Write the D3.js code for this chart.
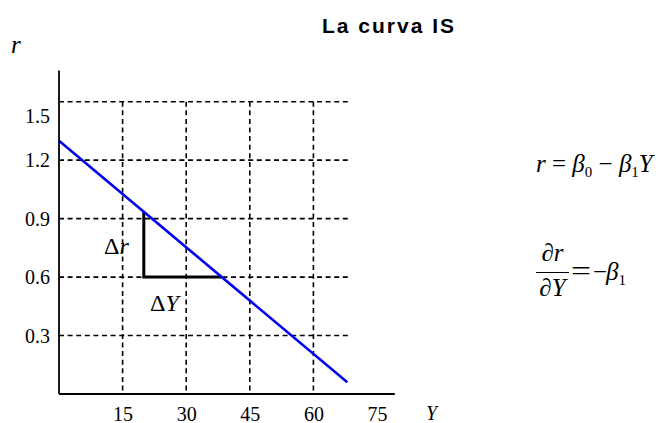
<!DOCTYPE html>
<html>
<head>
<meta charset="utf-8">
<script src="https://cdn.jsdelivr.net/npm/d3@7/dist/d3.min.js"></script>
<style>
  html, body { margin: 0; padding: 0; background: #fff; }
  svg { display: block; }
  .serif { font-family: "Liberation Serif", "Times New Roman", serif; }
</style>
</head>
<body>
<svg id="chart" width="658" height="423"></svg>
<script>
// IS curve: r = b0 - b1*Y
const yTicks = [15, 30, 45, 60, 75];          // output (Y) tick labels
const yGridX = [15, 30, 45, 60];              // vertical guide lines
const rTicks = [0.3, 0.6, 0.9, 1.2, 1.5];     // interest-rate tick labels
const isCurve = [[0, 1.3], [68, 0.06]];       // endpoints of the IS line (Y, r)
const deltaY = [20, 38.4];                    // horizontal leg of the slope triangle
const deltaR = [0.6, 0.935];                  // vertical leg of the slope triangle
const gridEndY = 68.2;                        // horizontal guides stop here
const axisMax = { Y: 79.2, r: 1.66 };

const svg = d3.select("#chart");
const x = d3.scaleLinear().domain([0, 75]).range([59, 377]);
const y = d3.scaleLinear().domain([0, 1.5]).range([394, 101.7]);

// dashed guides
const grid = svg.append("g")
  .attr("stroke", "#000").attr("stroke-width", 1.6)
  .attr("stroke-dasharray", "5,3.6").attr("fill", "none");
grid.selectAll("line.h").data(rTicks).join("line")
  .attr("class", "h")
  .attr("x1", x(0)).attr("x2", x(gridEndY))
  .attr("y1", d => y(d)).attr("y2", d => y(d));
grid.selectAll("line.v").data(yGridX).join("line")
  .attr("class", "v")
  .attr("x1", d => x(d)).attr("x2", d => x(d))
  .attr("y1", y(1.5)).attr("y2", y(0));

// axes
const xAxis = d3.axisBottom(x).tickValues(yTicks).tickSize(0).tickPadding(14)
  .tickFormat(d3.format("d"));
const gx = svg.append("g").attr("transform", `translate(0,${y(0)})`).call(xAxis);
gx.select(".domain").remove();
gx.selectAll("text").attr("class", "serif").attr("font-size", 20).attr("fill", "#000")
  .attr("dy", "0.71em").attr("y", 13);

const yAxis = d3.axisLeft(y).tickValues(rTicks).tickSize(0).tickPadding(9)
  .tickFormat(d3.format(".1f"));
const gy = svg.append("g").attr("transform", `translate(${x(0)},0)`).call(yAxis);
gy.select(".domain").remove();
gy.selectAll("text").attr("class", "serif").attr("font-size", 20).attr("fill", "#000")
  .attr("dy", d => d === 1.5 ? "1.02em" : "0.34em");

svg.append("line")
  .attr("x1", x(0)).attr("x2", x(0)).attr("y1", y(axisMax.r)).attr("y2", y(0))
  .attr("stroke", "#000").attr("stroke-width", 1.8);
svg.append("line")
  .attr("x1", x(0)).attr("x2", x(axisMax.Y)).attr("y1", y(0)).attr("y2", y(0))
  .attr("stroke", "#000").attr("stroke-width", 1.8);

// slope triangle
const tri = d3.line().x(d => x(d[0])).y(d => y(d[1]));
svg.append("path")
  .attr("d", tri([[deltaY[0], deltaR[1]], [deltaY[0], deltaR[0]], [deltaY[1], deltaR[0]]]))
  .attr("fill", "none").attr("stroke", "#000").attr("stroke-width", 3);

// IS line
svg.append("path")
  .attr("d", tri(isCurve))
  .attr("fill", "none").attr("stroke", "#0000ee").attr("stroke-width", 2.6);

// title
svg.append("text")
  .attr("x", 389).attr("y", 33).attr("text-anchor", "middle")
  .attr("font-family", "Liberation Sans, Arial, sans-serif").attr("font-weight", "bold")
  .attr("font-size", 21).attr("letter-spacing", 2)
  .text("La curva IS");

// axis names
svg.append("text").attr("class", "serif").attr("x", 11).attr("y", 53)
  .attr("font-size", 25).attr("font-style", "italic").text("r");
svg.append("text").attr("class", "serif").attr("x", 426).attr("y", 420)
  .attr("font-size", 20).attr("font-style", "italic").text("Y");

// triangle labels
const dr = svg.append("text").attr("class", "serif").attr("x", 104).attr("y", 254).attr("font-size", 24);
dr.append("tspan").text("Δ");
dr.append("tspan").attr("font-style", "italic").text("r");
const dY = svg.append("text").attr("class", "serif").attr("x", 150).attr("y", 311).attr("font-size", 24);
dY.append("tspan").text("Δ");
dY.append("tspan").attr("font-style", "italic").text("Y");

// equation of the line
const eq = svg.append("text").attr("class", "serif").attr("x", 536).attr("y", 172).attr("font-size", 25);
eq.append("tspan").attr("font-style", "italic").text("r");
eq.append("tspan").text(" = ");
eq.append("tspan").attr("font-style", "italic").text("β");
eq.append("tspan").attr("font-size", 15).attr("dy", 5).text("0");
eq.append("tspan").attr("dy", -5).text(" − ");
eq.append("tspan").attr("font-style", "italic").text("β");
eq.append("tspan").attr("font-size", 15).attr("dy", 5).text("1");
eq.append("tspan").attr("dy", -5).attr("font-style", "italic").text("Y");

// derivative
const num = svg.append("text").attr("class", "serif").attr("x", 552.5).attr("y", 261)
  .attr("font-size", 25).attr("text-anchor", "middle");
num.append("tspan").text("∂");
num.append("tspan").attr("font-style", "italic").text("r");
const den = svg.append("text").attr("class", "serif").attr("x", 552.5).attr("y", 296)
  .attr("font-size", 25).attr("text-anchor", "middle");
den.append("tspan").text("∂");
den.append("tspan").attr("font-style", "italic").text("Y");
svg.append("line").attr("x1", 536).attr("x2", 569).attr("y1", 272.5).attr("y2", 272.5)
  .attr("stroke", "#000").attr("stroke-width", 1.2);
svg.append("text").attr("class", "serif").attr("x", 571).attr("y", 280).attr("font-size", 28)
  .attr("textLength", 20).attr("lengthAdjust", "spacingAndGlyphs").text("=");
svg.append("text").attr("class", "serif").attr("x", 593).attr("y", 280).attr("font-size", 25)
  .attr("textLength", 14).attr("lengthAdjust", "spacingAndGlyphs").text("−");
const rhs = svg.append("text").attr("class", "serif").attr("x", 606).attr("y", 280).attr("font-size", 25);
rhs.append("tspan").attr("font-style", "italic").text("β");
rhs.append("tspan").attr("font-size", 15).attr("dy", 5).text("1");
</script>
</body>
</html>
